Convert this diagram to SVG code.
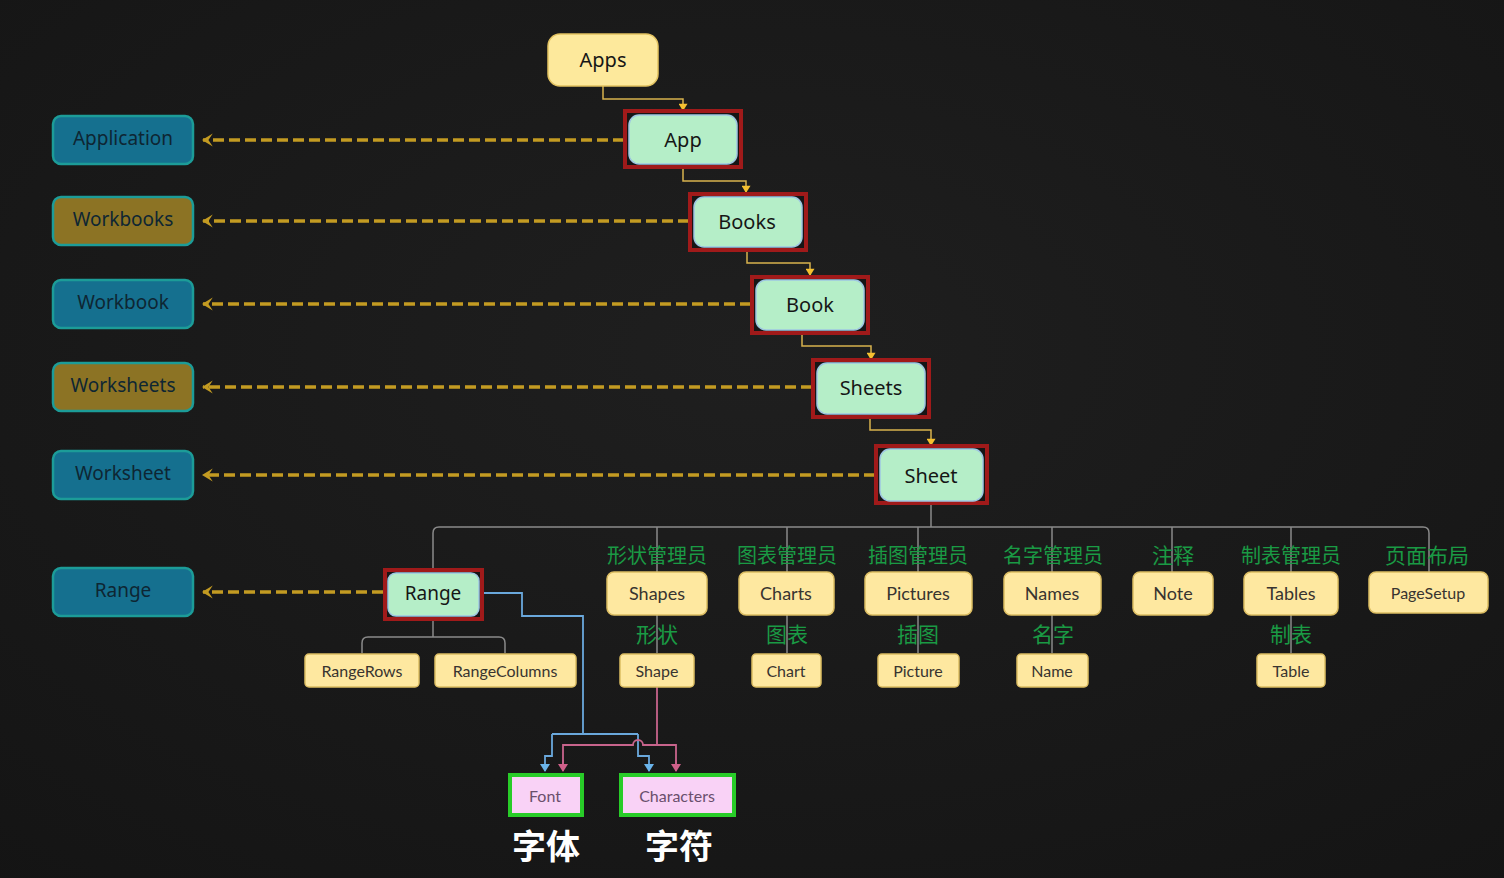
<svg xmlns="http://www.w3.org/2000/svg" width="1504" height="878" viewBox="0 0 1504 878">
<defs>
<radialGradient id="bg" cx="0.5" cy="0.4" r="0.8">
<stop offset="0" stop-color="#1f1f1f"/>
<stop offset="1" stop-color="#141414"/>
</radialGradient>
<marker id="dash-arrow" viewBox="0 0 10 12" refX="9" refY="6" markerWidth="3.1" markerHeight="3.9" orient="auto" markerUnits="strokeWidth">
<path d="M0,0 L10,6 L0,12 L4,6 Z" fill="#c39b22"/>
</marker>
<marker id="ya" viewBox="0 0 10 10" refX="5" refY="9" markerWidth="9" markerHeight="9" orient="0" markerUnits="userSpaceOnUse">
<path d="M0,2 L10,2 L5,10 Z" fill="#f5c030"/>
</marker>
<marker id="ba" viewBox="0 0 10 10" refX="5" refY="9" markerWidth="10" markerHeight="10" orient="0" markerUnits="userSpaceOnUse">
<path d="M0,2 L10,2 L5,10 Z" fill="#6ab4ea"/>
</marker>
<marker id="pa" viewBox="0 0 10 10" refX="5" refY="9" markerWidth="10" markerHeight="10" orient="0" markerUnits="userSpaceOnUse">
<path d="M0,2 L10,2 L5,10 Z" fill="#d0608a"/>
</marker>
</defs>
<style>
.lbox{stroke:#1c9c98;stroke-width:2.5}
.blue{fill:#15708f}
.gold{fill:#8c7324}
.ltxt{font-family:"Noto Sans",sans-serif;font-size:19px;fill:#0e2633;text-anchor:middle;dominant-baseline:central}
.red{fill:#161616;stroke:#a01a1a;stroke-width:4}
.grn{fill:#b5eec8;stroke:#9ec6e2;stroke-width:1.5}
.gtxt{font-family:"Noto Sans",sans-serif;font-size:20px;fill:#161616;text-anchor:middle;dominant-baseline:central}
.yel{fill:#fee8a0;stroke:#dcbd62;stroke-width:1.5}
.ytxt{font-family:Lato,"Noto Sans",sans-serif;font-size:18px;fill:#383430;text-anchor:middle;dominant-baseline:central}
.ysm{font-size:16px}
.cn{font-family:"Noto Sans CJK SC",sans-serif;font-size:20px;fill:#1a9a44;text-anchor:middle;dominant-baseline:central}
.cn2{font-size:21px}
.pink{fill:#f9d2f6;stroke:#28cc28;stroke-width:4}
.ptxt{font-family:Lato,"Noto Sans",sans-serif;font-size:16px;fill:#6a4f6c;text-anchor:middle;dominant-baseline:central}
.wcn{font-family:"Noto Sans CJK SC",sans-serif;font-size:34px;font-weight:bold;fill:#ffffff;text-anchor:middle;dominant-baseline:central}
.dash{fill:none;stroke:#c39b22;stroke-width:3.5;stroke-dasharray:11 5}
.yl{fill:none;stroke:#d8b24e;stroke-width:1.5}
.tree{fill:none;stroke:#8a8a8a;stroke-width:1.5}
.bl{fill:none;stroke:#6aa8dc;stroke-width:1.8}
.pl{fill:none;stroke:#c8648c;stroke-width:1.8}
</style>
<rect x="0" y="0" width="1504" height="878" fill="url(#bg)"/>

<g id="connectors">
<!-- dashed mapping arrows -->
<line class="dash" x1="624" y1="140" x2="203" y2="140" marker-end="url(#dash-arrow)"/>
<line class="dash" x1="689" y1="221" x2="203" y2="221" marker-end="url(#dash-arrow)"/>
<line class="dash" x1="751" y1="304" x2="203" y2="304" marker-end="url(#dash-arrow)"/>
<line class="dash" x1="812" y1="387" x2="203" y2="387" marker-end="url(#dash-arrow)"/>
<line class="dash" x1="875" y1="475" x2="203" y2="475" marker-end="url(#dash-arrow)"/>
<line class="dash" x1="383" y1="592" x2="203" y2="592" marker-end="url(#dash-arrow)"/>
<!-- yellow chain -->
<polyline class="yl" points="603,86 603,99 683,99 683,110" marker-end="url(#ya)"/>
<polyline class="yl" points="683,168 683,181 746,181 746,192" marker-end="url(#ya)"/>
<polyline class="yl" points="747,251 747,263 810,263 810,275" marker-end="url(#ya)"/>
<polyline class="yl" points="802,334 802,346 871,346 871,359" marker-end="url(#ya)"/>
<polyline class="yl" points="870,418 870,430 931,430 931,445" marker-end="url(#ya)"/>
<!-- tree from Sheet -->
<line class="tree" x1="931" y1="504" x2="931" y2="527"/>
<path class="tree" d="M433,569 L433,533 Q433,527 439,527 L1423,527 Q1429,527 1429,533 L1429,572"/>
<line class="tree" x1="657" y1="527" x2="657" y2="572"/>
<line class="tree" x1="787" y1="527" x2="787" y2="572"/>
<line class="tree" x1="918" y1="527" x2="918" y2="572"/>
<line class="tree" x1="1052" y1="527" x2="1052" y2="572"/>
<line class="tree" x1="1172" y1="527" x2="1172" y2="572"/>
<line class="tree" x1="1291" y1="527" x2="1291" y2="572"/>
<!-- child links -->
<line class="tree" x1="657" y1="615" x2="657" y2="653"/>
<line class="tree" x1="787" y1="615" x2="787" y2="653"/>
<line class="tree" x1="918" y1="615" x2="918" y2="653"/>
<line class="tree" x1="1052" y1="615" x2="1052" y2="653"/>
<line class="tree" x1="1291" y1="615" x2="1291" y2="653"/>
<!-- Range subtree -->
<line class="tree" x1="433" y1="620" x2="433" y2="637"/>
<path class="tree" d="M362,653 L362,643 Q362,637 368,637 L499,637 Q505,637 505,643 L505,653"/>
<!-- blue: Range to Font / Characters -->
<polyline class="bl" points="483,593 522,593 522,616 583,616 583,734"/>
<polyline class="bl" points="552,734 638,734"/>
<polyline class="bl" points="552,734 552,756 545,756 545,771" marker-end="url(#ba)"/>
<polyline class="bl" points="638,734 638,756 649,756 649,771" marker-end="url(#ba)"/>
<!-- pink: Shape to Font / Characters -->
<line class="pl" x1="657" y1="687" x2="657" y2="745"/>
<path class="pl" d="M563,771 L563,745 L633,745 A5,5 0 0 1 643,745 L676,745 L676,771"/>
<line class="pl" x1="563" y1="760" x2="563" y2="771" marker-end="url(#pa)"/>
<line class="pl" x1="676" y1="760" x2="676" y2="771" marker-end="url(#pa)"/>
</g>

<g id="node-application"><rect class="lbox blue" x="53" y="116" width="140" height="48" rx="8"/><text class="ltxt" x="123" y="138">Application</text></g>
<g id="node-workbooks"><rect class="lbox gold" x="53" y="197" width="140" height="48" rx="8"/><text class="ltxt" x="123" y="219">Workbooks</text></g>
<g id="node-workbook"><rect class="lbox blue" x="53" y="280" width="140" height="48" rx="8"/><text class="ltxt" x="123" y="302">Workbook</text></g>
<g id="node-worksheets"><rect class="lbox gold" x="53" y="363" width="140" height="48" rx="8"/><text class="ltxt" x="123" y="385">Worksheets</text></g>
<g id="node-worksheet"><rect class="lbox blue" x="53" y="451" width="140" height="48" rx="8"/><text class="ltxt" x="123" y="473">Worksheet</text></g>
<g id="node-range-left"><rect class="lbox blue" x="53" y="568" width="140" height="48" rx="8"/><text class="ltxt" x="123" y="590">Range</text></g>

<g id="node-apps"><rect x="548" y="34" width="110" height="52" rx="12" fill="#fde99c" stroke="#e2c260" stroke-width="1.5"/><text class="gtxt" x="603" y="59" fill="#222">Apps</text></g>
<g id="node-app"><rect class="red" x="625" y="111" width="116" height="56"/><rect class="grn" x="629" y="115" width="108" height="49" rx="10"/><text class="gtxt" x="683" y="139">App</text></g>
<g id="node-books"><rect class="red" x="690" y="194" width="116" height="56"/><rect class="grn" x="694" y="197" width="108" height="50" rx="10"/><text class="gtxt" x="747" y="221">Books</text></g>
<g id="node-book"><rect class="red" x="752" y="277" width="116" height="56"/><rect class="grn" x="756" y="280" width="108" height="50" rx="10"/><text class="gtxt" x="810" y="304">Book</text></g>
<g id="node-sheets"><rect class="red" x="813" y="360" width="116" height="57"/><rect class="grn" x="817" y="363" width="108" height="51" rx="10"/><text class="gtxt" x="871" y="387">Sheets</text></g>
<g id="node-sheet"><rect class="red" x="876" y="446" width="111" height="57"/><rect class="grn" x="880" y="449" width="103" height="52" rx="10"/><text class="gtxt" x="931" y="475">Sheet</text></g>
<g id="node-range"><rect class="red" x="385" y="570" width="97" height="49"/><rect class="grn" x="388" y="573" width="91" height="43" rx="8"/><text class="gtxt" x="433" y="593" style="font-size:19px">Range</text></g>

<g id="node-rangerows"><rect class="yel" x="305" y="654" width="114" height="33" rx="4"/><text class="ytxt ysm" x="362" y="670">RangeRows</text></g>
<g id="node-rangecolumns"><rect class="yel" x="435" y="654" width="141" height="33" rx="4"/><text class="ytxt ysm" x="505" y="670">RangeColumns</text></g>

<g id="node-shapes"><text class="cn" x="657" y="554">形状管理员</text><rect class="yel" x="607" y="572" width="100" height="43" rx="7"/><text class="ytxt" x="657" y="593">Shapes</text></g>
<g id="node-shape"><text class="cn cn2" x="657" y="633">形状</text><rect class="yel" x="620" y="654" width="74" height="33" rx="4"/><text class="ytxt ysm" x="657" y="670">Shape</text></g>
<g id="node-charts"><text class="cn" x="787" y="554">图表管理员</text><rect class="yel" x="739" y="572" width="95" height="43" rx="7"/><text class="ytxt" x="786" y="593">Charts</text></g>
<g id="node-chart"><text class="cn cn2" x="787" y="633">图表</text><rect class="yel" x="752" y="654" width="69" height="33" rx="4"/><text class="ytxt ysm" x="786" y="670">Chart</text></g>
<g id="node-pictures"><text class="cn" x="918" y="554">插图管理员</text><rect class="yel" x="865" y="572" width="107" height="43" rx="7"/><text class="ytxt" x="918" y="593">Pictures</text></g>
<g id="node-picture"><text class="cn cn2" x="918" y="633">插图</text><rect class="yel" x="878" y="654" width="81" height="33" rx="4"/><text class="ytxt ysm" x="918" y="670">Picture</text></g>
<g id="node-names"><text class="cn" x="1053" y="554">名字管理员</text><rect class="yel" x="1004" y="572" width="97" height="43" rx="7"/><text class="ytxt" x="1052" y="593">Names</text></g>
<g id="node-name"><text class="cn cn2" x="1053" y="633">名字</text><rect class="yel" x="1017" y="654" width="71" height="33" rx="4"/><text class="ytxt ysm" x="1052" y="670">Name</text></g>
<g id="node-note"><text class="cn cn2" x="1173" y="554">注释</text><rect class="yel" x="1133" y="572" width="80" height="43" rx="7"/><text class="ytxt" x="1173" y="593">Note</text></g>
<g id="node-tables"><text class="cn" x="1291" y="554">制表管理员</text><rect class="yel" x="1244" y="572" width="94" height="43" rx="7"/><text class="ytxt" x="1291" y="593">Tables</text></g>
<g id="node-table"><text class="cn cn2" x="1291" y="633">制表</text><rect class="yel" x="1257" y="654" width="68" height="33" rx="4"/><text class="ytxt ysm" x="1291" y="670">Table</text></g>
<g id="node-pagesetup"><text class="cn cn2" x="1427" y="554">页面布局</text><rect class="yel" x="1369" y="572" width="119" height="41" rx="7"/><text class="ytxt ysm" x="1428" y="592">PageSetup</text></g>

<g id="node-font"><rect class="pink" x="510" y="775" width="72" height="40"/><text class="ptxt" x="545" y="795">Font</text><text class="wcn" x="546" y="844">字体</text></g>
<g id="node-characters"><rect class="pink" x="621" y="775" width="113" height="40"/><text class="ptxt" x="677" y="795">Characters</text><text class="wcn" x="679" y="844">字符</text></g>
</svg>
